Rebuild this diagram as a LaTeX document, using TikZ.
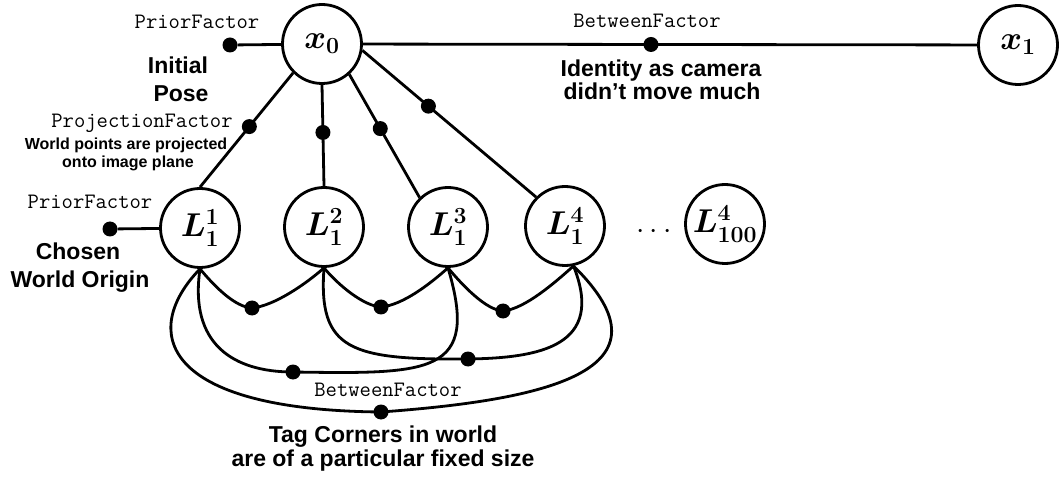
\RequirePackage{fix-cm}
\documentclass[tikz,border=0pt]{standalone}
\usepackage{fontspec}
\newfontfamily\labelfont{Liberation Sans}
\newcommand{\bd}[1]{\mathbf{#1}}
\begin{document}
\begin{tikzpicture}[x=1pt,y=1pt,
  var/.style={circle,draw,line width=2.8pt,minimum size=79pt,inner sep=0pt,
    font=\fontsize{33}{40}\selectfont\boldmath},
  fac/.style={circle,fill,inner sep=0pt,minimum size=15pt},
  edge/.style={line width=2.8pt},
  code/.style={font=\ttfamily\fontsize{22}{24}\selectfont,anchor=base,inner sep=0pt},
  big/.style={font=\labelfont\bfseries\fontsize{23}{26}\selectfont,anchor=base,inner sep=0pt},
  small/.style={font=\labelfont\bfseries\fontsize{16}{18}\selectfont,anchor=base,inner sep=0pt}]
\useasboundingbox (0,0) rectangle (1060,-478);

% variables
\node[var] (x0)   at (322,-44)  {$x_{\bd{0}}$};
\node[var] (x1)   at (1018,-45) {$x_{\bd{1}}$};
\node[var] (L11)  at (200,-228) {$L_{\bd{1}}^{\bd{1}}$};
\node[var] (L12)  at (324,-227) {$L_{\bd{1}}^{\bd{2}}$};
\node[var] (L13)  at (448,-227) {$L_{\bd{1}}^{\bd{3}}$};
\node[var] (L14)  at (565,-226) {$L_{\bd{1}}^{\bd{4}}$};
\node[var] (L100) at (725,-224) {$L_{\bd{100}}^{\bd{4}}$};
\node[font=\fontsize{30}{36}\selectfont] (more) at (654,-232) {$\cdots$};

% prior factors
\node[fac] (p0) at (230,-45) {};
\draw[edge] (p0) -- (x0);
\node[fac] (p1) at (110,-229) {};
\draw[edge] (p1) -- (L11);

% odometry factor
\draw[edge] (x0) -- node[fac,pos=0.469] (fb) {} (x1);

% projection factors
\draw[edge] (x0.-135) -- node[fac,pos=0.47] (fp1) {} (L11.north);
\draw[edge] (x0.south) -- node[fac,pos=0.47] (fp2) {} (L12.north);
\draw[edge] (x0.-48) -- node[fac,pos=0.44] (fp3) {} (L13.134);
\draw[edge] (x0.-9) -- node[fac,pos=0.38] (fp4) {} (L14.135);

% tag corner factors
\node[fac] (f12) at (252,-308) {};
\node[fac] (f23) at (381,-307) {};
\node[fac] (f34) at (503,-311) {};
\node[fac] (f13) at (293,-372) {};
\node[fac] (f24) at (468,-359) {};
\node[fac] (f14) at (381,-412) {};

\draw[edge] (L11.south) .. controls +(15,-18) and +(-17,1) .. (f12.center)
  .. controls +(22,2) and +(-18,-16) .. (L12.south);
\draw[edge] (L12.south) .. controls +(15,-18) and +(-17,1) .. (f23.center)
  .. controls +(22,2) and +(-18,-16) .. (L13.south);
\draw[edge] (L13.south) .. controls +(15,-18) and +(-17,1) .. (f34.center)
  .. controls +(22,2) and +(-18,-16) .. (L14.-78);
\draw[edge] (L11.south) .. controls +(-11,-75) and +(-60,0) .. (f13.center)
  .. controls +(137,-2) and +(32,-107) .. (L13.south);
\draw[edge] (L12.south) .. controls +(-6,-82) and +(-118,-1) .. (f24.center)
  .. controls +(72,1) and +(32,-80) .. (L14.-78);
\draw[edge] (L11.south) .. controls +(-60,-62) and +(-221,2) .. (f14.center)
  .. controls +(164,12) and +(107,-105) .. (L14.-78);

% labels
\node[code] (t1) at (197,-29) {PriorFactor};
\node[big] (t2) at (178,-74) {Initial};
\node[big] (t3) at (181,-102) {Pose};
\node[code] (t4) at (142,-128) {ProjectionFactor};
\node[small] (t5) at (126,-150) {World points are projected};
\node[small] (t6) at (128,-168) {onto image plane};
\node[code] (t7) at (90,-209) {PriorFactor};
\node[big] (t8) at (78,-260) {Chosen};
\node[big] (t9) at (80,-288) {World Origin};
\node[code] (t10) at (647,-28) {BetweenFactor};
\node[big] (t11) at (661,-77) {Identity as camera};
\node[big] (t12) at (662,-100) {didn’t move much};
\node[code] (t13) at (388,-396) {BetweenFactor};
\node[big] (t14) at (383,-442) {Tag Corners in world};
\node[big] (t15) at (383,-466) {are of a particular fixed size};
\end{tikzpicture}
\end{document}
